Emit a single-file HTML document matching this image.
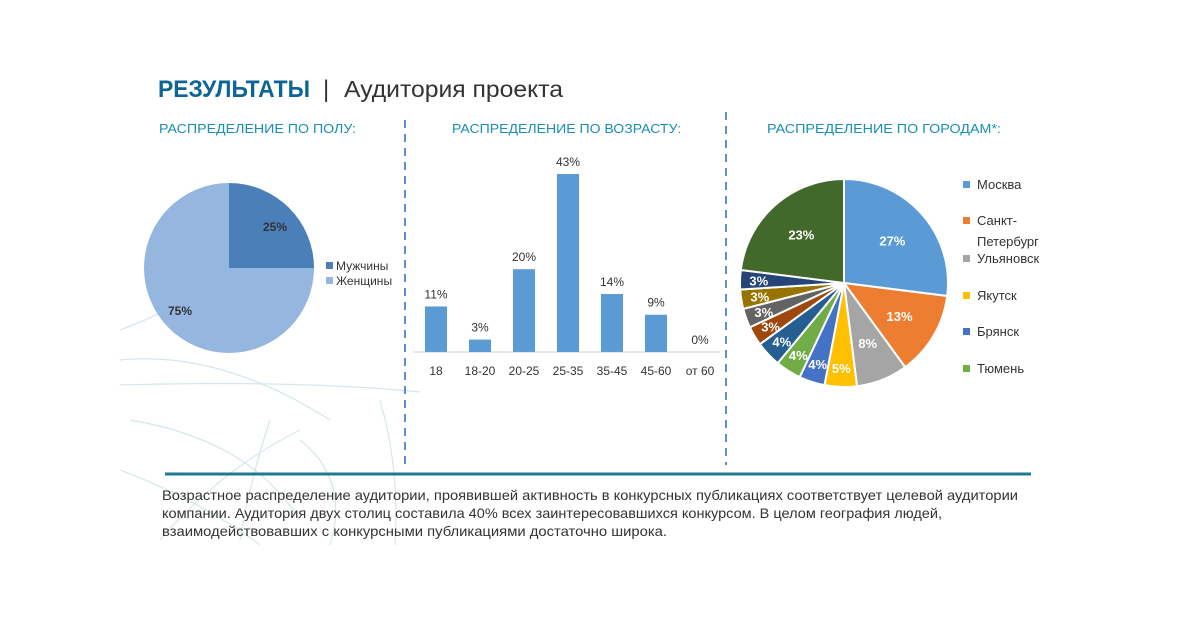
<!DOCTYPE html>
<html><head><meta charset="utf-8"><style>
body{margin:0;background:#fff;width:1200px;height:630px;overflow:hidden;font-family:"Liberation Sans","DejaVu Sans",sans-serif}
</style></head><body>
<svg id="s" width="1200" height="630" xmlns="http://www.w3.org/2000/svg" font-family="Liberation Sans, DejaVu Sans, sans-serif">
<g stroke="#c9e2e6" stroke-width="1.2" fill="none" opacity="0.8">
<path d="M120 330 Q200 300 260 250"/><path d="M120 385 Q300 380 420 392"/><path d="M130 420 Q250 440 300 520"/>
<path d="M160 540 Q220 470 300 430"/><path d="M240 540 Q250 480 270 420"/><path d="M120 470 Q200 500 260 545"/>
<path d="M380 400 Q400 470 395 545"/><path d="M300 440 Q350 480 330 545"/><path d="M120 360 Q220 350 330 420"/>
</g>
<text x="158" y="97" font-size="24" font-weight="bold" fill="#0d6594" textLength="152" lengthAdjust="spacingAndGlyphs">РЕЗУЛЬТАТЫ</text>
<text x="323" y="97" font-size="24" fill="#333">|</text>
<text x="344" y="97" font-size="23" fill="#333" textLength="219" lengthAdjust="spacingAndGlyphs">Аудитория проекта</text>
<g font-size="13" fill="#1a8fb3">
<text x="159" y="133" textLength="197" lengthAdjust="spacingAndGlyphs">РАСПРЕДЕЛЕНИЕ ПО ПОЛУ:</text>
<text x="452" y="133" textLength="229" lengthAdjust="spacingAndGlyphs">РАСПРЕДЕЛЕНИЕ ПО ВОЗРАСТУ:</text>
<text x="767" y="133" textLength="234" lengthAdjust="spacingAndGlyphs">РАСПРЕДЕЛЕНИЕ ПО ГОРОДАМ*:</text>
</g>
<g stroke="#5b8fd0" stroke-width="2" stroke-dasharray="8,6">
<line x1="405" y1="120" x2="405" y2="465"/><line x1="726" y1="112" x2="726" y2="465"/>
</g>
<g id="p1"></g>
<rect x="326" y="262" width="7" height="7" fill="#4a7fb9"/><text x="336" y="270" font-size="12" fill="#333">Мужчины</text>
<rect x="326" y="277" width="7" height="7" fill="#95b6de"/><text x="336" y="285" font-size="12" fill="#333">Женщины</text>
<text x="263" y="231" font-size="12" font-weight="bold" fill="#333">25%</text>
<text x="168" y="315" font-size="12" font-weight="bold" fill="#333">75%</text>
<line x1="413" y1="352" x2="720" y2="352" stroke="#d0d0d0"/>
<g id="bars"></g>
<g id="p2"></g>
<g font-size="13" fill="#333" id="leg"></g>
<line x1="165" y1="474" x2="1031" y2="474" stroke="#1d7a91" stroke-width="3"/>
<g font-size="14" fill="#333">
<text x="162" y="500" textLength="856" lengthAdjust="spacingAndGlyphs">Возрастное распределение аудитории, проявившей активность в конкурсных публикациях соответствует целевой аудитории</text>
<text x="162" y="518" textLength="780" lengthAdjust="spacingAndGlyphs">компании. Аудитория двух столиц составила 40% всех заинтересовавшихся конкурсом. В целом география людей,</text>
<text x="162" y="536" textLength="505" lengthAdjust="spacingAndGlyphs">взаимодействовавших с конкурсными публикациями достаточно широка.</text>
</g>
</svg>
<script>
var NS="http://www.w3.org/2000/svg";
function el(p,t,a,txt){var e=document.createElementNS(NS,t);for(var k in a)e.setAttribute(k,a[k]);if(txt)e.textContent=txt;document.getElementById(p).appendChild(e);return e;}
function pie(id,cx,cy,r,vals,cols,stroke,labels){var a=0,tot=vals.reduce((x,y)=>x+y,0);
vals.forEach(function(v,i){var a0=a,a1=a+v/tot*2*Math.PI;a=a1;
var x0=cx+r*Math.sin(a0),y0=cy-r*Math.cos(a0),x1=cx+r*Math.sin(a1),y1=cy-r*Math.cos(a1);
el(id,"path",{d:"M"+cx+" "+cy+"L"+x0+" "+y0+"A"+r+" "+r+" 0 "+((a1-a0)>Math.PI?1:0)+" 1 "+x1+" "+y1+"Z",fill:cols[i],stroke:stroke,"stroke-width":stroke=="none"?0:2});
if(labels){var m=(a0+a1)/2,rr=v>6?r*0.62:r*0.82;el(id,"text",{x:cx+rr*Math.sin(m),y:cy-rr*Math.cos(m)+5,"text-anchor":"middle","font-size":13,"font-weight":"bold",fill:"#fff"},v+"%");}
});}
pie("p1",229,268,85,[25,75],["#4a7fb9","#95b6de"],"none",false);
var cats=["18","18-20","20-25","25-35","35-45","45-60","от 60"],v=[11,3,20,43,14,9,0];
cats.forEach(function(c,i){var x=436+i*44,h=v[i]*4.14;
el("bars","rect",{x:x-11,y:352-h,width:22,height:h,fill:"#5b9bd5"});
el("bars","text",{x:x,y:352-h-8,"text-anchor":"middle","font-size":12,fill:"#333"},v[i]+"%");
el("bars","text",{x:x,y:375,"text-anchor":"middle","font-size":12,fill:"#333"},c);});
pie("p2",844,283,104,[27,13,8,5,4,4,4,3,3,3,3,23],["#5b9bd5","#ed7d31","#a5a5a5","#ffc000","#4472c4","#70ad47","#255e91","#9e480e","#636363","#997300","#264478","#43682b"],"#fff",true);
var L=[["Москва",189,"#5b9bd5"],["Санкт-",225,"#ed7d31"],["Ульяновск",263,"#a5a5a5"],["Якутск",300,"#ffc000"],["Брянск",336,"#4472c4"],["Тюмень",373,"#70ad47"]];
L.forEach(function(l){el("leg","rect",{x:963,y:l[1]-8,width:7,height:7,fill:l[2]});el("leg","text",{x:977,y:l[1]},l[0]);});
el("leg","text",{x:977,y:246},"Петербург");
</script>
</body></html>
